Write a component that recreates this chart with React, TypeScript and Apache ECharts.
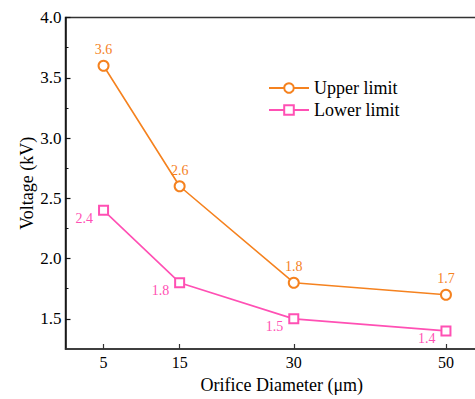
import React, { useEffect, useRef } from "react";
import * as echarts from "echarts";

const diameters = [5, 15, 30, 50];
const upperLimit = [3.6, 2.6, 1.8, 1.7];
const lowerLimit = [2.4, 1.8, 1.5, 1.4];
const yMajorTicks = [1.5, 2.0, 2.5, 3.0, 3.5, 4.0];
const yMinorTicks = [1.75, 2.25, 2.75, 3.25, 3.75];
const xTicks = [5, 15, 30, 50];

const ORANGE = "#F5821F";
const PINK = "#FF50B4";
const FONT = "'Liberation Serif', 'Times New Roman', Times, serif";

export default function App() {
  const ref = useRef<HTMLDivElement>(null);
  useEffect(() => {
    if (!ref.current) return;
    const chart = echarts.init(ref.current, null, { renderer: "svg" });
    chart.setOption({
      animation: false,
      backgroundColor: "#fff",
      textStyle: { fontFamily: FONT },
      grid: {
        left: 65.5,
        top: 17.5,
        bottom: 43.7,
        right: 0,
        show: true,
        borderColor: "#333",
        borderWidth: 1.5,
        backgroundColor: "transparent",
      },
      legend: {
        orient: "vertical",
        left: 268,
        top: 79,
        padding: 0,
        itemWidth: 40,
        itemHeight: 12,
        itemGap: 4,
        textStyle: { fontFamily: FONT, fontSize: 18, color: "#000" },
        data: ["Upper limit", "Lower limit"],
      },
      xAxis: {
        type: "value",
        min: 0,
        max: 55,
        name: "Orifice Diameter (μm)",
        nameLocation: "middle",
        nameGap: 27,
        nameMoveOverlap: false,
        nameTextStyle: { fontFamily: FONT, fontSize: 18, color: "#000", padding: [0, 0, 0, 14] },
        axisLine: { show: true, lineStyle: { color: "#333", width: 1.5 } },
        axisTick: { show: true, inside: true, length: 5, customValues: xTicks, lineStyle: { color: "#333", width: 1.2 } },
        axisLabel: { customValues: xTicks, fontFamily: FONT, fontSize: 16, color: "#000", margin: 5 },
        splitLine: { show: false },
      },
      yAxis: [
        {
          type: "value",
          min: 1.25,
          max: 4.0,
          name: "Voltage (kV)",
          nameLocation: "middle",
          nameGap: 30,
          nameMoveOverlap: false,
          nameTextStyle: { fontFamily: FONT, fontSize: 18, color: "#000" },
          axisLine: { show: true, lineStyle: { color: "#111", width: 1.5 } },
          axisTick: { show: true, inside: true, length: 5, customValues: yMajorTicks, lineStyle: { color: "#111", width: 1.2 } },
          axisLabel: {
            customValues: yMajorTicks,
            formatter: (v: number) => v.toFixed(1),
            fontFamily: FONT,
            fontSize: 17,
            color: "#000",
            margin: 4,
          },
          splitLine: { show: false },
        },
        {
          type: "value",
          min: 1.25,
          max: 4.0,
          position: "left",
          offset: 0,
          axisLine: { show: false },
          axisTick: { show: true, inside: true, length: 3, customValues: yMinorTicks, lineStyle: { color: "#111", width: 1 } },
          axisLabel: { show: false },
          splitLine: { show: false },
        },
      ],
      series: [
        {
          name: "Upper limit",
          type: "line",
          data: diameters.map((d, i) => [d, upperLimit[i]]),
          color: ORANGE,
          lineStyle: { color: ORANGE, width: 1.6 },
          symbol: "emptyCircle",
          symbolSize: 10,
          itemStyle: { color: ORANGE, borderColor: ORANGE, borderWidth: 1.6 },
          label: {
            show: true,
            position: "top",
            distance: 3,
            color: ORANGE,
            fontFamily: FONT,
            fontSize: 14,
            formatter: (p: any) => p.value[1].toFixed(1),
          },
        },
        {
          name: "Lower limit",
          type: "line",
          data: diameters.map((d, i) => [d, lowerLimit[i]]),
          color: PINK,
          lineStyle: { color: PINK, width: 1.6 },
          symbol: "emptyRect",
          symbolSize: 9,
          itemStyle: { color: PINK, borderColor: PINK, borderWidth: 1.6 },
          label: {
            show: true,
            position: "left",
            distance: 5,
            offset: [0, 8],
            color: PINK,
            fontFamily: FONT,
            fontSize: 14,
            formatter: (p: any) => p.value[1].toFixed(1),
          },
        },
      ],
    });
    return () => chart.dispose();
  }, []);
  return (
    <div
      ref={ref}
      style={{ position: "fixed", left: 0, top: 0, width: 484, height: 399 }}
    />
  );
}
